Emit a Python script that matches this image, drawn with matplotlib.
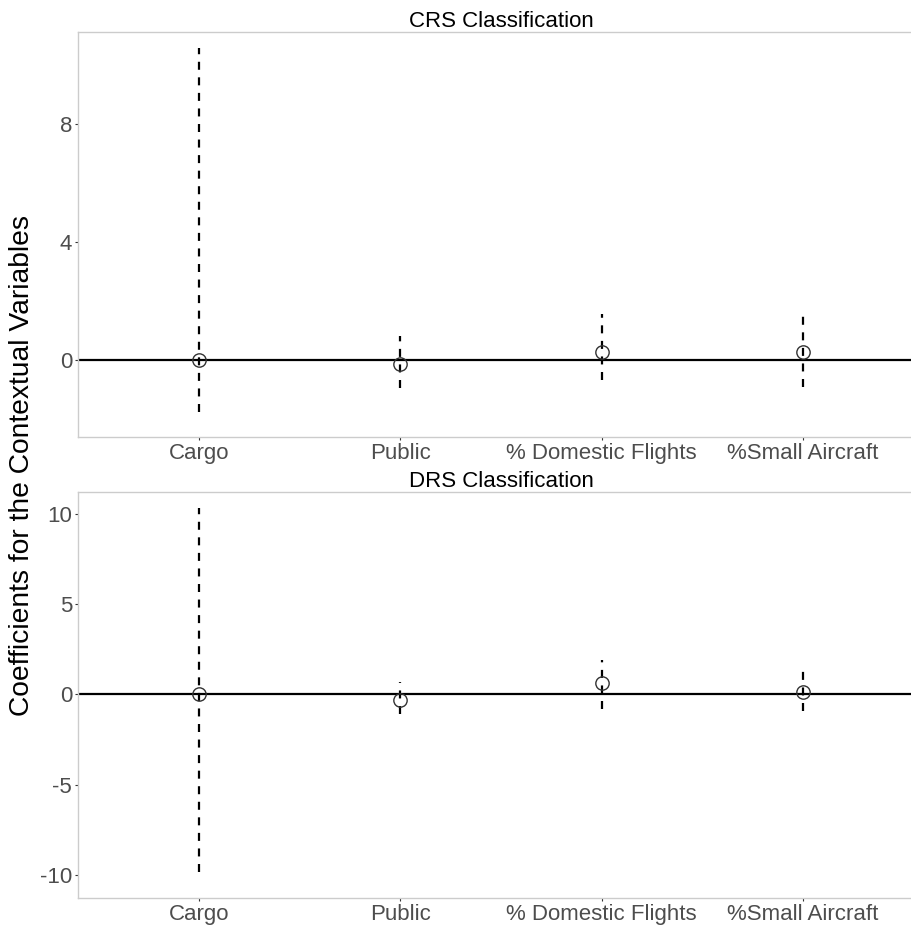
import numpy as np
import matplotlib
matplotlib.use("Agg")
import matplotlib.pyplot as plt

plt.rcParams['font.family'] = ['Liberation Sans', 'DejaVu Sans']

# variables on the x axis
variables = ["Cargo", "Public", "% Domestic Flights", "%Small Aircraft"]

# CRS classification: estimate and interval
crs_est = [0.0, -0.15, 0.26, 0.26]
crs_low = [-1.76, -0.95, -0.68, -0.92]
crs_high = [10.58, 0.81, 1.56, 1.64]

# DRS classification
drs_est = [0.0, -0.32, 0.61, 0.15]
drs_low = [-9.87, -1.09, -0.83, -0.93]
drs_high = [10.35, 0.67, 1.94, 1.53]

W, H = 912, 927
fig = plt.figure(figsize=(W / 100, H / 100), dpi=100)

grey_border = "#cccccc"
tick_grey = "#4d4d4d"


def panel(rect, est, low, high, title, yticks, ylim):
    ax = fig.add_axes(rect)
    x = np.arange(1, len(variables) + 1)
    ax.axhline(0, color="black", lw=1.6, zorder=1)
    for xi, lo, hi in zip(x, low, high):
        ax.plot([xi, xi], [lo, hi], color="black", lw=1.6,
                dashes=(3.6, 3.4), zorder=2)
    ax.plot(x, est, "o", ms=9.6, mfc="none", mec="#333333", mew=1.0, zorder=3)
    ax.set_xlim(0.4, 4.6)
    ax.set_ylim(*ylim)
    ax.set_xticks(x)
    ax.set_xticklabels(variables)
    ax.set_yticks(yticks)
    ax.set_yticklabels([str(t) for t in yticks])
    for s in ax.spines.values():
        s.set_color(grey_border)
        s.set_linewidth(1.0)
    ax.spines["right"].set_visible(False)
    ax.tick_params(axis="both", length=2.2, width=0.8, color="#333333",
                   labelsize=16, labelcolor=tick_grey, pad=2)
    ax.set_title(title, fontsize=16, pad=3.6, color="black")
    return ax


left = 78 / W
width = (924 - 78) / W
panel([left, 1 - 437 / H, width, (437 - 32) / H],
      crs_est, crs_low, crs_high, "CRS Classification", [0, 4, 8], (-2.61, 11.12))
panel([left, 1 - 898 / H, width, (898 - 492) / H],
      drs_est, drs_low, drs_high, "DRS Classification", [-10, -5, 0, 5, 10], (-11.3, 11.24))

fig.text(22 / W, 1 - 465 / H, "Coefficients for the Contextual Variables",
         rotation=90, va="center", ha="center", fontsize=20.3, color="black")

fig.savefig("out.png", dpi=100)
